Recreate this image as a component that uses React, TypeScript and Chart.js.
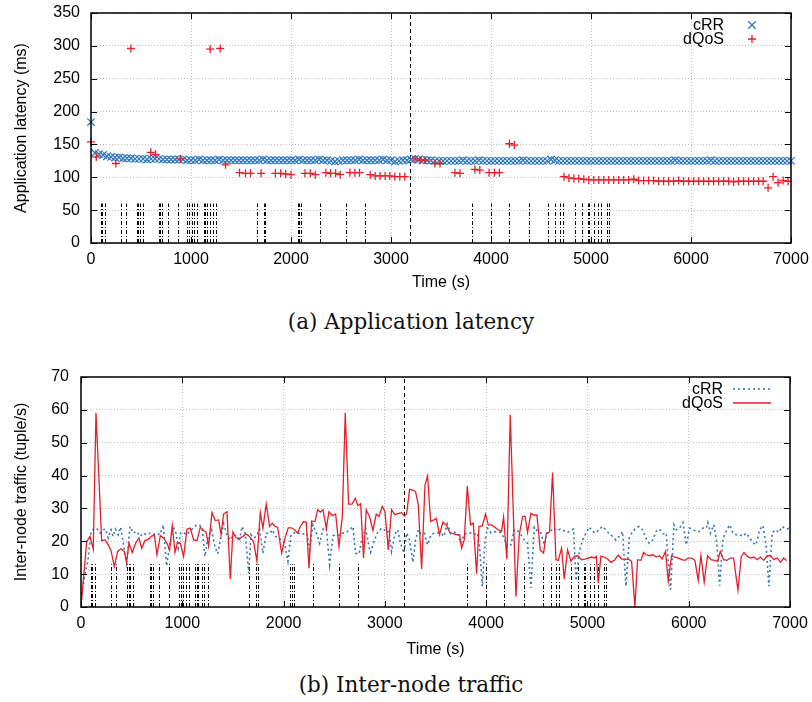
import React, { useEffect, useRef } from "react";
import { Chart, registerables } from "chart.js";

Chart.register(...registerables);

// ---------------- data ----------------
const TIME_MIN = 0;
const TIME_MAX = 7000;
const TIME_STEP = 1000;

// (a) application latency, cRR sampled every 40 s starting at 0 s
const latencyCrrStart = 0;
const latencyCrrStep = 40;
const latencyCrr = [
  184, 137, 135, 134, 132, 131, 130, 130, 129, 129,
  129, 128, 128, 128, 127, 128, 128, 128, 127, 127,
  127, 127, 127, 127, 126, 126, 126, 127, 126, 126,
  126, 126, 127, 126, 126, 126, 126, 126, 126, 126,
  126, 126, 126, 127, 126, 126, 126, 126, 126, 126,
  126, 126, 127, 126, 126, 126, 126, 127, 126, 126,
  125, 124, 125, 126, 126, 126, 126, 127, 126, 126,
  126, 126, 126, 127, 126, 126, 124, 125, 126, 126,
  127, 128, 127, 126, 126, 126, 125, 125, 125, 125,
  125, 125, 125, 126, 125, 125, 125, 126, 125, 125,
  125, 125, 125, 125, 125, 125, 125, 125, 126, 125,
  125, 125, 125, 125, 125, 127, 126, 125, 125, 125,
  125, 125, 125, 125, 125, 125, 125, 125, 125, 125,
  125, 125, 125, 125, 125, 125, 125, 125, 125, 125,
  125, 125, 125, 125, 125, 125, 126, 125, 125, 125,
  125, 125, 125, 125, 125, 126, 125, 125, 125, 125,
  125, 125, 125, 125, 125, 125, 125, 125, 125, 125,
  125, 125, 125, 125, 125, 125,
];

// (a) application latency, dQoS [time s, latency ms]
const latencyDqos: [number, number][] = [
  [0, 154], [53, 131], [249, 121], [399, 296], [598, 138], [645, 135], [894, 128],
  [1192, 295], [1292, 296], [1345, 119], [1485, 107], [1545, 106], [1595, 106],
  [1701, 106], [1844, 106], [1897, 106], [1947, 105], [2000, 104], [2140, 106],
  [2193, 106], [2243, 104], [2349, 107], [2396, 106], [2446, 106], [2492, 104],
  [2589, 107], [2639, 107], [2685, 107], [2792, 104], [2842, 102], [2891, 102],
  [2941, 102], [2988, 102], [3038, 101], [3088, 101], [3138, 101], [3240, 128],
  [3290, 126], [3340, 126], [3440, 121], [3490, 121], [3639, 107], [3689, 106],
  [3839, 112], [3888, 111], [3981, 107], [4034, 107], [4084, 107], [4184, 151],
  [4234, 149], [4729, 101], [4779, 99], [4829, 98], [4878, 98], [4928, 97],
  [4978, 96], [5028, 96], [5078, 96], [5128, 96], [5177, 96], [5227, 96],
  [5277, 96], [5327, 96], [5377, 96], [5427, 97], [5477, 95], [5526, 95],
  [5576, 95], [5626, 95], [5676, 94], [5726, 94], [5776, 94], [5826, 94],
  [5876, 95], [5926, 94], [5976, 94], [6026, 94], [6076, 94], [6126, 94],
  [6176, 94], [6226, 94], [6276, 94], [6326, 94], [6376, 94], [6426, 93],
  [6476, 94], [6526, 94], [6576, 94], [6626, 94], [6676, 94], [6721, 94],
  [6771, 84], [6821, 101], [6871, 92], [6921, 95], [6971, 94],
];

// (b) inter-node traffic, cRR [time s, tuple/s]
const trafficCrr: [number, number][] = [
  [6, 4], [40, 10], [72, 15], [98, 22.5], [121, 23.7], [154, 24], [188, 22.5], [220, 23.5],
  [243, 23.7], [269, 21], [296, 23.5], [316, 21.5], [339, 23.7], [368, 22], [391, 24.3],
  [418, 19.4], [450, 13.4], [484, 24.5], [516, 22.5], [549, 23], [582, 21.5], [615, 22.5],
  [648, 22], [680, 22.5], [713, 22], [746, 22.5], [779, 22], [812, 25], [845, 12.5],
  [878, 19.4], [911, 24.5], [937, 22.5], [960, 18], [983, 22.5], [1009, 22.8], [1042, 22],
  [1075, 23], [1108, 24], [1141, 25], [1174, 24.8], [1197, 24], [1223, 15.4], [1256, 21.5],
  [1289, 23.5], [1322, 18.4], [1349, 16.2], [1382, 21.3], [1408, 25.3], [1441, 22],
  [1474, 20.4], [1507, 22], [1540, 21.5], [1563, 19.9], [1589, 24.5], [1622, 22.5],
  [1655, 10.3], [1678, 22], [1704, 21], [1731, 21.5], [1763, 23.7], [1796, 16.4],
  [1829, 22.5], [1862, 22.3], [1888, 23.5], [1921, 21.5], [1951, 21], [1984, 20.4],
  [2010, 19.4], [2043, 13.9], [2073, 22], [2106, 22.5], [2139, 22.7], [2172, 22],
  [2204, 22.3], [2231, 22.5], [2257, 17.4], [2290, 25], [2323, 22.5], [2356, 19.4],
  [2389, 23.7], [2422, 24], [2455, 12.9], [2488, 21.7], [2521, 22], [2553, 21.8],
  [2586, 22.5], [2619, 22.7], [2652, 23.5], [2685, 24.5], [2711, 16.4], [2744, 16.1],
  [2777, 21], [2810, 24], [2843, 18.4], [2859, 16.6], [2892, 19.9], [2925, 22.5],
  [2958, 23.7], [2981, 24], [3014, 22.7], [3040, 23], [3066, 16.9], [3099, 22],
  [3126, 23.5], [3155, 19.4], [3188, 16.4], [3215, 22.5], [3244, 20.4], [3277, 13.6],
  [3303, 20.4], [3330, 23.5], [3356, 22.3], [3389, 22.5], [3422, 18.9], [3455, 22],
  [3488, 22.5], [3521, 22.5], [3554, 22.5], [3583, 21.5], [3616, 25.3], [3649, 22.3],
  [3682, 22.7], [3715, 22.7], [3748, 19.4], [3781, 21.8], [3814, 22.7], [3846, 22.5],
  [3879, 22], [3912, 22.5], [3935, 18.4], [3962, 6.3], [3988, 19.4], [4011, 24],
  [4050, 22.5], [4100, 23], [4140, 22.7], [4179, 21], [4212, 18.4], [4245, 18.9],
  [4277, 23.5], [4310, 23.3], [4343, 22], [4376, 20.4], [4409, 19.4], [4442, 5.8],
  [4475, 24.3], [4508, 23], [4541, 22.5], [4573, 18.9], [4600, 22.5], [4633, 23],
  [4666, 24], [4699, 23.2], [4732, 23.7], [4764, 23.3], [4797, 22.7], [4830, 23.1],
  [4863, 23.7], [4887, 8], [4919, 16.9], [4952, 20.4], [4985, 22.5], [5018, 24.3],
  [5051, 23], [5084, 22.5], [5117, 23.7], [5150, 24.5], [5182, 23.5], [5215, 22.3],
  [5248, 21.5], [5281, 20.4], [5314, 21.5], [5347, 23], [5380, 6.3], [5413, 21],
  [5446, 23], [5478, 24], [5511, 24.5], [5544, 23.5], [5577, 21], [5610, 19.4],
  [5646, 20.4], [5679, 23], [5712, 23.7], [5745, 22.3], [5778, 22.5], [5794, 15.4],
  [5821, 5.3], [5854, 25], [5877, 23.5], [5910, 24], [5943, 25.7], [5976, 18.9],
  [6009, 24], [6041, 23.5], [6074, 23], [6107, 23], [6140, 24], [6173, 24], [6189, 25.7],
  [6215, 22.5], [6248, 25], [6278, 19.4], [6305, 6.5], [6338, 21], [6371, 23], [6404, 25],
  [6436, 22.5], [6469, 22], [6502, 22], [6535, 21.5], [6568, 22.5], [6601, 21],
  [6634, 19.6], [6666, 18.9], [6699, 23.5], [6732, 24.8], [6765, 18.4], [6791, 6.3],
  [6824, 22.5], [6857, 23.5], [6890, 22.7], [6923, 24.5], [6962, 23.7], [6995, 24],
];

// (b) inter-node traffic, dQoS [time s, tuple/s]
const trafficDqos: [number, number][] = [
  [6, 2], [56, 19.9], [89, 21.5], [121, 17.6], [148, 59.1], [204, 20.2], [237, 20.4],
  [269, 18.9], [296, 17.2], [329, 12.3], [362, 16.9], [394, 17.7], [427, 16.9], [450, 13.6],
  [474, 19.4], [506, 16.6], [539, 19.4], [572, 21], [599, 17.9], [631, 20.2], [664, 20.6],
  [697, 21.5], [724, 22], [750, 15.9], [783, 21.7], [816, 21], [849, 19.4], [875, 17.4],
  [901, 24.8], [928, 16.6], [954, 19.6], [980, 19.4], [1013, 15.4], [1046, 23.7],
  [1079, 24], [1112, 20.4], [1145, 20.2], [1178, 24.3], [1211, 23.3], [1234, 22.8],
  [1260, 18.6], [1293, 28.7], [1326, 26.3], [1359, 26.5], [1382, 22], [1408, 28.3],
  [1441, 29], [1474, 8.5], [1500, 22.8], [1533, 21], [1566, 20.9], [1599, 21.5],
  [1625, 22.3], [1651, 21.8], [1678, 20.9], [1704, 19.9], [1737, 13.9], [1770, 28.7],
  [1796, 24], [1829, 31.3], [1862, 24.5], [1888, 25.5], [1915, 24.5], [1941, 24.3],
  [1981, 16.4], [2014, 21], [2046, 24.1], [2079, 24.1], [2106, 23.5], [2139, 22.5],
  [2165, 24.5], [2198, 26], [2224, 25.8], [2251, 11.8], [2277, 26.2], [2310, 26],
  [2336, 29.6], [2362, 28.9], [2389, 29.6], [2422, 23.9], [2448, 29], [2481, 27.8],
  [2514, 28.3], [2547, 18.4], [2580, 27.5], [2609, 59.1], [2642, 31.3], [2675, 31.3],
  [2708, 33.1], [2734, 30.8], [2761, 31.4], [2790, 14.9], [2816, 29.6], [2849, 27.5],
  [2882, 23.3], [2915, 28.3], [2941, 27.5], [2974, 30.6], [3001, 29.1], [3034, 17.4],
  [3066, 29.6], [3099, 28.1], [3132, 28.5], [3165, 28.7], [3192, 27.7], [3215, 28.3],
  [3244, 35.8], [3277, 35.6], [3303, 35.1], [3330, 31.1], [3363, 11.6], [3396, 37.1],
  [3422, 39.9], [3452, 26], [3484, 26.5], [3507, 27], [3540, 22], [3573, 25.8], [3606, 25],
  [3639, 22.8], [3672, 22.3], [3705, 22], [3738, 22], [3758, 17.9], [3784, 20.4],
  [3814, 36.8], [3846, 25], [3873, 25.5], [3906, 10.1], [3929, 24.5], [3962, 24.7],
  [3994, 28.3], [4021, 25], [4054, 25], [4086, 24.3], [4119, 23.5], [4152, 23],
  [4172, 27.4], [4205, 14.5], [4238, 58.5], [4294, 3.2], [4327, 22], [4360, 27.5],
  [4383, 27.7], [4409, 22.7], [4442, 28.5], [4468, 28], [4501, 28], [4534, 17.4],
  [4567, 16.4], [4593, 22.3], [4626, 22.8], [4656, 40.9], [4689, 14.4], [4712, 14.2],
  [4745, 17.9], [4771, 8.5], [4804, 17.4], [4837, 13.9], [4870, 15.4], [4903, 15.6],
  [4942, 14.4], [4975, 14.6], [5008, 14.9], [5041, 15.2], [5067, 14.9], [5087, 15.4],
  [5107, 7.3], [5133, 15.4], [5166, 15.2], [5199, 14.6], [5232, 13.6], [5265, 14.2],
  [5304, 15.8], [5337, 14.6], [5370, 14.6], [5413, 14.4], [5436, 13.9], [5469, 0],
  [5495, 14.4], [5528, 14.2], [5554, 16.6], [5580, 15.9], [5613, 15.6], [5646, 15.9],
  [5679, 15.2], [5712, 15.6], [5738, 14.6], [5771, 16.9], [5798, 7.8], [5831, 15.6],
  [5864, 15.2], [5897, 14.9], [5930, 14.4], [5963, 14.2], [5996, 14.9], [6028, 14.9],
  [6061, 14.2], [6094, 8.1], [6120, 15.7], [6153, 7.6], [6186, 15.6], [6219, 14.4],
  [6252, 14.2], [6285, 13.9], [6311, 16.9], [6344, 14.4], [6377, 14.2], [6410, 14.9],
  [6443, 14.9], [6486, 5.1], [6519, 15.4], [6545, 16.6], [6578, 15.4], [6611, 14.9],
  [6643, 15.2], [6676, 14.4], [6709, 15.2], [6742, 14.2], [6775, 15.6], [6808, 15.6],
  [6841, 14.4], [6873, 14.9], [6906, 13.6], [6939, 14.9], [6966, 14.1],
];

// reconfiguration events (dash-dot vertical marks) and the dashed marker time
const eventTimes = [
  99, 109, 143, 299, 349, 458, 472, 485, 515, 678, 691, 711, 774, 867, 963, 983, 1007,
  1033, 1063, 1130, 1143, 1156, 1190, 1219, 1249, 1655, 1731, 1744, 2067, 2083, 2100,
  2293, 2552, 2735, 3811, 3998, 4181, 4377, 4566, 4643, 4689, 4719, 4835, 4908, 4968,
  4978, 5025, 5068, 5101, 5161, 5181,
];
const markerTime = 3190;
const latencyEventTop = 60;
const trafficEventTop = 13;

const SERIES_NAMES = ["cRR", "dQoS"];
const LATENCY_TICKS = { min: 0, max: 350, step: 50 };
const TRAFFIC_TICKS = { min: 0, max: 70, step: 10 };

// ---------------- styling ----------------
const BLUE = "#2f78bd";
const RED = "#e3202a";
const SANS = '"Liberation Sans", Arial, Helvetica, sans-serif';
const tickFont = { family: SANS, size: 16 };

type LegendEntry = { label: string; color: string; kind: "crossRot" | "cross" | "solid" | "dotted" };

function makeDecor(cfg: { events: number[]; eventTop: number; marker: number; legend: LegendEntry[] }) {
  return {
    id: "decor",
    beforeDatasetsDraw(chart: any) {
      const { ctx, chartArea: a, scales } = chart;
      const x = scales.x;
      const y = scales.y;
      ctx.save();
      ctx.beginPath();
      ctx.rect(a.left, a.top, a.right - a.left, a.bottom - a.top);
      ctx.clip();
      ctx.strokeStyle = "#000";
      ctx.lineWidth = 1;
      ctx.setLineDash([4, 2, 1, 2]);
      const y0 = y.getPixelForValue(0);
      const y1 = y.getPixelForValue(cfg.eventTop);
      for (const t of cfg.events) {
        const px = Math.round(x.getPixelForValue(t)) + 0.5;
        ctx.beginPath();
        ctx.moveTo(px, y0);
        ctx.lineTo(px, y1);
        ctx.stroke();
      }
      ctx.setLineDash([4, 3]);
      const mx = Math.round(x.getPixelForValue(cfg.marker)) + 0.5;
      ctx.beginPath();
      ctx.moveTo(mx, a.bottom);
      ctx.lineTo(mx, a.top);
      ctx.stroke();
      ctx.restore();
    },
    afterDatasetsDraw(chart: any) {
      const { ctx, chartArea: a, scales } = chart;
      const x = scales.x;
      const y = scales.y;
      ctx.save();
      ctx.strokeStyle = "#000";
      ctx.lineWidth = 1;
      const tl = 6;
      ctx.beginPath();
      for (const tk of x.ticks) {
        const px = Math.round(x.getPixelForValue(tk.value)) + 0.5;
        ctx.moveTo(px, a.bottom);
        ctx.lineTo(px, a.bottom - tl);
        ctx.moveTo(px, a.top);
        ctx.lineTo(px, a.top + tl);
      }
      for (const tk of y.ticks) {
        const py = Math.round(y.getPixelForValue(tk.value)) + 0.5;
        ctx.moveTo(a.left, py);
        ctx.lineTo(a.left + tl, py);
        ctx.moveTo(a.right, py);
        ctx.lineTo(a.right - tl, py);
      }
      ctx.stroke();
      ctx.lineWidth = 1.5;
      ctx.strokeRect(Math.round(a.left), Math.round(a.top), Math.round(a.right - a.left), Math.round(a.bottom - a.top));
      ctx.restore();
    },
    afterDraw(chart: any) {
      const { ctx, chartArea: a } = chart;
      ctx.save();
      ctx.font = `16px ${SANS}`;
      ctx.textAlign = "right";
      ctx.textBaseline = "middle";
      cfg.legend.forEach((e, i) => {
        const yy = a.top + 12 + i * 14;
        ctx.fillStyle = "#000";
        ctx.fillText(e.label, a.right - 67, yy + 1);
        ctx.strokeStyle = e.color;
        const cx = a.right - 39;
        if (e.kind === "crossRot") {
          ctx.lineWidth = 1.3;
          ctx.beginPath();
          ctx.moveTo(cx - 3.7, yy - 3.7);
          ctx.lineTo(cx + 3.7, yy + 3.7);
          ctx.moveTo(cx + 3.7, yy - 3.7);
          ctx.lineTo(cx - 3.7, yy + 3.7);
          ctx.stroke();
        } else if (e.kind === "cross") {
          ctx.lineWidth = 1.3;
          ctx.beginPath();
          ctx.moveTo(cx - 4, yy);
          ctx.lineTo(cx + 4, yy);
          ctx.moveTo(cx, yy - 4);
          ctx.lineTo(cx, yy + 4);
          ctx.stroke();
        } else {
          ctx.lineWidth = e.kind === "dotted" ? 1.6 : 1.4;
          ctx.setLineDash(e.kind === "dotted" ? [2, 3] : []);
          ctx.beginPath();
          ctx.moveTo(a.right - 57, yy);
          ctx.lineTo(a.right - 19, yy);
          ctx.stroke();
          ctx.setLineDash([]);
        }
      });
      ctx.restore();
    },
  };
}

const plainNumber = (v: any) => String(v);

function axisOptions(opts: {
  yMin: number; yMax: number; yStep: number; yTitle: string; yWidth: number; xHeight: number;
  xTitlePadBottom: number; yTickPad: number;
}) {
  const grid = { color: "#bdbdbd", lineWidth: 1, drawTicks: false };
  return {
    x: {
      type: "linear",
      min: TIME_MIN,
      max: TIME_MAX,
      afterFit: (s: any) => {
        s.height = opts.xHeight;
        s.paddingLeft = 0;
        s.paddingRight = 0;
      },
      ticks: { stepSize: TIME_STEP, autoSkip: false, maxRotation: 0, padding: 7.4, color: "#000", font: tickFont, callback: plainNumber },
      grid,
      border: { display: false, dash: [1, 2] },
      title: { display: true, text: "Time (s)", color: "#000", font: tickFont, padding: { top: 0, bottom: opts.xTitlePadBottom } },
    },
    y: {
      type: "linear",
      min: opts.yMin,
      max: opts.yMax,
      afterFit: (s: any) => {
        s.width = opts.yWidth;
        s.paddingTop = 0;
        s.paddingBottom = 0;
      },
      ticks: { stepSize: opts.yStep, padding: opts.yTickPad, color: "#000", font: tickFont, callback: plainNumber },
      grid,
      border: { display: false, dash: [1, 2] },
      title: { display: true, text: opts.yTitle, color: "#000", font: tickFont, padding: { top: 12.4, bottom: 0 } },
    },
  };
}

function LatencyChart() {
  const ref = useRef<HTMLCanvasElement | null>(null);
  useEffect(() => {
    if (!ref.current) return;
    const chart = new Chart(ref.current, {
      type: "scatter",
      data: {
        datasets: [
          {
            label: SERIES_NAMES[1],
            data: latencyDqos.map(([t, v]) => ({ x: t, y: v })),
            pointStyle: "cross",
            pointRadius: 4,
            pointBorderWidth: 1.3,
            borderColor: RED,
            backgroundColor: RED,
            order: 0,
            clip: false,
          },
          {
            label: SERIES_NAMES[0],
            data: latencyCrr.map((v, i) => ({ x: latencyCrrStart + i * latencyCrrStep, y: v })),
            pointStyle: "crossRot",
            pointRadius: 5.3,
            pointBorderWidth: 1.3,
            borderColor: BLUE,
            backgroundColor: BLUE,
            order: 1,
            clip: false,
          },
        ],
      },
      options: {
        responsive: false,
        animation: false,
        devicePixelRatio: 1,
        events: [],
        layout: { padding: { left: 0, right: 21, top: 13, bottom: 0 } },
        plugins: { legend: { display: false }, tooltip: { enabled: false } },
        scales: axisOptions({
          yMin: LATENCY_TICKS.min, yMax: LATENCY_TICKS.max, yStep: LATENCY_TICKS.step,
          yTitle: "Application latency (ms)", yWidth: 91, xHeight: 57, xTitlePadBottom: 7.4, yTickPad: 11,
        }) as any,
      },
      plugins: [
        makeDecor({
          events: eventTimes, eventTop: latencyEventTop, marker: markerTime,
          legend: [
            { label: SERIES_NAMES[0], color: BLUE, kind: "crossRot" },
            { label: SERIES_NAMES[1], color: RED, kind: "cross" },
          ],
        }),
      ],
    } as any);
    return () => chart.destroy();
  }, []);
  return <canvas ref={ref} width={812} height={300} style={{ position: "absolute", left: 0, top: 0, width: 812, height: 300 }} />;
}

function TrafficChart() {
  const ref = useRef<HTMLCanvasElement | null>(null);
  useEffect(() => {
    if (!ref.current) return;
    const chart = new Chart(ref.current, {
      type: "scatter",
      data: {
        datasets: [
          {
            label: SERIES_NAMES[1],
            data: trafficDqos.map(([t, v]) => ({ x: t, y: v })),
            showLine: true,
            pointRadius: 0,
            borderColor: RED,
            borderWidth: 1.3,
            tension: 0,
            order: 0,
          },
          {
            label: SERIES_NAMES[0],
            data: trafficCrr.map(([t, v]) => ({ x: t, y: v })),
            showLine: true,
            pointRadius: 0,
            borderColor: BLUE,
            borderWidth: 1.6,
            borderDash: [2, 3],
            tension: 0,
            order: 1,
          },
        ],
      },
      options: {
        responsive: false,
        animation: false,
        devicePixelRatio: 1,
        events: [],
        layout: { padding: { left: 0, right: 22, top: 27, bottom: 0 } },
        plugins: { legend: { display: false }, tooltip: { enabled: false } },
        scales: axisOptions({
          yMin: TRAFFIC_TICKS.min, yMax: TRAFFIC_TICKS.max, yStep: TRAFFIC_TICKS.step,
          yTitle: "Inter-node traffic (tuple/s)", yWidth: 81, xHeight: 55, xTitlePadBottom: 2.4, yTickPad: 12,
        }) as any,
      },
      plugins: [
        makeDecor({
          events: eventTimes, eventTop: trafficEventTop, marker: markerTime,
          legend: [
            { label: SERIES_NAMES[0], color: BLUE, kind: "dotted" },
            { label: SERIES_NAMES[1], color: RED, kind: "solid" },
          ],
        }),
      ],
    } as any);
    return () => chart.destroy();
  }, []);
  return <canvas ref={ref} width={812} height={312} style={{ position: "absolute", left: 0, top: 350, width: 812, height: 312 }} />;
}

const captionStyle: React.CSSProperties = {
  position: "absolute",
  left: 211,
  width: 400,
  textAlign: "center",
  fontFamily: '"DejaVu Serif", "Liberation Serif", serif',
  fontSize: 21.5,
  lineHeight: "24px",
  color: "#111",
  whiteSpace: "nowrap",
};

export default function App() {
  return (
    <div style={{ position: "absolute", left: 0, top: 0, width: 812, height: 702, background: "#fff", overflow: "hidden" }}>
      <LatencyChart />
      <div style={{ ...captionStyle, top: 310 }}>(a) Application latency</div>
      <TrafficChart />
      <div style={{ ...captionStyle, top: 673 }}>(b) Inter-node traffic</div>
    </div>
  );
}
